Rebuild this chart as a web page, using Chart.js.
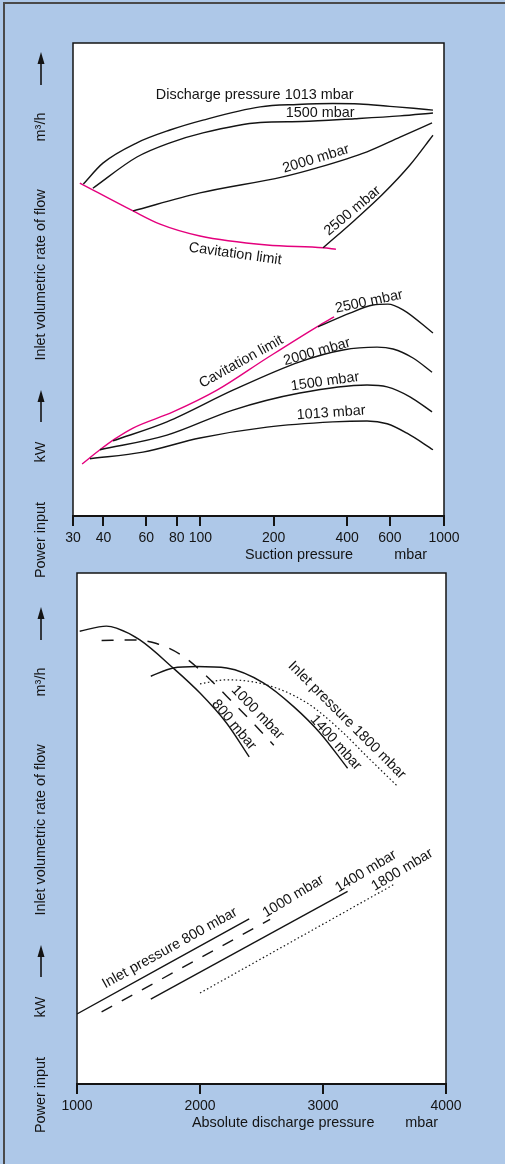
<!DOCTYPE html>
<html>
<head>
<meta charset="utf-8">
<script src="https://cdn.jsdelivr.net/npm/chart.js@4"></script>
<style>
  html, body { margin: 0; padding: 0; background: #aec8e8; }
  #page { position: relative; width: 505px; height: 1164px; overflow: hidden; }
  .rule { position: absolute; background: #4a4a4a; }
  canvas { position: absolute; left: 0; top: 0; }
</style>
</head>
<body>
<div id="page">
  <div class="rule" style="left:3px;top:2px;width:2px;height:1162px"></div>
  <div class="rule" style="left:3px;top:2px;width:502px;height:2px"></div>
  <canvas id="suction" width="505" height="1164" style="width:505px;height:1164px"></canvas>
  <canvas id="discharge" width="505" height="1164" style="width:505px;height:1164px"></canvas>
</div>
<script>
// x tick values
const suctionTicks = [30, 40, 60, 80, 100, 200, 400, 600, 1000];
const dischargeTicks = [1000, 2000, 3000, 4000];

// upper chart: [suction pressure mbar, relative value]  (flow on top, power below)
const flowAt1013 = [[33.1,70.2],[39.8,74.6],[54.9,78.9],[75,81.6],[102.5,83.7],[176,86.5],[250,87.0],[350,87.2],[450,87.1],[600,86.6],[750,86.2],[901,85.8]];
const flowAt1500 = [[36.2,69.3],[54.9,75.9],[75,78.9],[102.5,81.0],[176,83.2],[260,83.4],[431,84.0],[660,84.6],[901,85.2]];
const flowAt2000 = [[52.9,64.5],[99.6,68.3],[218,71.7],[301,73.6],[483,77.0],[660,80.1],[893,83.1]];
const flowAt2500 = [[319,56.7],[431,62.6],[557,67.9],[725,74.2],[901,80.5]];
const flowCavitation = [[32,70.4],[52.9,64.5],[68.3,61.7],[99.6,59.2],[187.7,57.3],[319,56.7],[360,56.4]];

const powerAt1013 = [[35.2,12.1],[58.1,13.5],[99.6,16.5],[187.7,18.8],[350,19.9],[483,20.1],[584,19.5],[705,17.5],[901,14.0]];
const powerAt1500 = [[38.7,14.0],[72.9,17.1],[136,22.4],[256,26.0],[483,27.7],[584,27.3],[725,25.2],[893,22.0]];
const powerAt2000 = [[43.8,15.9],[72.9,19.9],[136,26.6],[256,32.6],[385,35.1],[531,35.7],[618,35.3],[746,33.4],[893,30.4]];
const powerAt2500 = [[304,40.0],[411,42.9],[511,44.6],[589,44.8],[679,43.6],[901,38.7]];
const powerCavitation = [[32.7,11.0],[38.7,14.0],[44.6,16.3],[52.9,18.6],[77.2,22.0],[117,26.6],[187.7,33.4],[301,40.0],[354,42.1]];

// lower chart: [absolute discharge pressure mbar, relative value]
const flowIn800 = [[1022,88.6],[1239,89.6],[1321,89.2],[1511,86.9],[1782,81.4],[2000,76.5],[2217,70.6],[2400,64.0]];
const flowIn1000 = [[1200,86.8],[1456,86.9],[1647,86.2],[1863,83.7],[2054,79.8],[2217,75.9],[2433,70.6],[2600,66.3]];
const flowIn1400 = [[1600,79.8],[1782,81.4],[1972,81.7],[2217,81.4],[2515,78.5],[2759,73.9],[2976,68.7],[3200,61.8]];
const flowIn1800 = [[2000,78.3],[2217,79.1],[2542,78.1],[2868,74.6],[3139,69.3],[3357,64.1],[3600,58.4]];
const powerIn800 = [[1000,13.7],[2400,32.3]];
const powerIn1000 = [[1200,14.1],[2570,32.2]];
const powerIn1400 = [[1600,16.6],[3200,37.7]];
const powerIn1800 = [[2000,17.8],[3580,39.1]];

const FONT = '"Liberation Sans", Arial, sans-serif';
const INK = '#141414';
const MAGENTA = '#e4007d';

function pts(arr) { return arr.map(p => ({ x: p[0], y: p[1] })); }

function curve(data, extra) {
  return Object.assign({
    data: pts(data), borderColor: INK, borderWidth: 1.4, pointRadius: 0,
    tension: 0.4, cubicInterpolationMode: 'monotone', fill: false
  }, extra || {});
}

const DASHED = { borderDash: [12, 11] };
const DOTTED = { borderDash: [1.5, 2.5], borderWidth: 1.2 };

// white panel, frame, curve notes, axis title and the rotated side captions
function panelPlugin(cfg) {
  return {
    id: 'panel_' + cfg.name,
    beforeDraw(chart) {
      const { ctx, chartArea: a } = chart;
      ctx.save();
      ctx.fillStyle = '#fff';
      ctx.fillRect(a.left, a.top, a.width, a.height);
      ctx.restore();
    },
    afterDraw(chart) {
      const { ctx, chartArea: a } = chart;
      const xs = chart.scales.x, ys = chart.scales.y;
      ctx.save();
      ctx.strokeStyle = INK;
      ctx.lineWidth = 1.5;
      ctx.beginPath();
      ctx.moveTo(a.left, a.bottom);
      ctx.lineTo(a.left, a.top);
      ctx.lineTo(a.right, a.top);
      ctx.lineTo(a.right, a.bottom);
      ctx.stroke();

      ctx.fillStyle = INK;
      ctx.font = '14.4px ' + FONT;
      ctx.textAlign = 'center';
      ctx.textBaseline = 'middle';
      cfg.notes.forEach(n => {
        ctx.save();
        ctx.translate(xs.getPixelForValue(n.x), ys.getPixelForValue(n.y));
        ctx.rotate(n.rot * Math.PI / 180);
        ctx.fillText(n.text, 0, 0);
        ctx.restore();
      });

      ctx.textAlign = 'left';
      ctx.fillText(cfg.title, a.left + cfg.titleOffset, a.bottom + 39);
      ctx.textAlign = 'right';
      ctx.fillText('mbar', a.right - cfg.unitOffset, a.bottom + 39);

      const sx = 41;
      cfg.side.forEach(s => {
        if (s.text) {
          ctx.save();
          ctx.translate(sx, s.y);
          ctx.rotate(-Math.PI / 2);
          ctx.textAlign = 'center';
          ctx.fillText(s.text, 0, 0);
          ctx.restore();
        } else {
          const [y1, y2] = s.arrow;
          ctx.lineWidth = 1.6;
          ctx.beginPath();
          ctx.moveTo(sx, y1);
          ctx.lineTo(sx, y2 + 8);
          ctx.stroke();
          ctx.beginPath();
          ctx.moveTo(sx, y2);
          ctx.lineTo(sx - 3.5, y2 + 12);
          ctx.lineTo(sx + 3.5, y2 + 12);
          ctx.closePath();
          ctx.fill();
        }
      });
      ctx.restore();
    }
  };
}

function xAxis(type, min, max, tickList) {
  return {
    type: type, min: min, max: max,
    afterBuildTicks: s => { s.ticks = tickList.map(v => ({ value: v })); },
    afterFit: s => { s.height = 40; },
    ticks: { autoSkip: false, maxRotation: 0, color: INK, padding: 4,
             font: { family: FONT, size: 14 }, callback: v => String(v) },
    grid: { drawOnChartArea: false, drawTicks: true, tickLength: 10, color: INK, lineWidth: 2 },
    border: { display: true, color: INK, width: 2 }
  };
}

const topCfg = {
  name: 'suction',
  title: 'Suction pressure', titleOffset: 172, unitOffset: 17,
  notes: [
    { text: 'Discharge pressure 1013 mbar', x: 167, y: 89.1, rot: 0 },
    { text: '1500 mbar', x: 310, y: 85.2, rot: 0 },
    { text: '2000 mbar', x: 298, y: 75.5, rot: -17 },
    { text: '2500 mbar', x: 421, y: 64.5, rot: -40 },
    { text: 'Cavitation limit', x: 139, y: 55.4, rot: 8 },
    { text: '2500 mbar', x: 492, y: 45.3, rot: -12 },
    { text: 'Cavitation limit', x: 147, y: 32.6, rot: -29 },
    { text: '2000 mbar', x: 301, y: 34.7, rot: -16 },
    { text: '1500 mbar', x: 325, y: 28.4, rot: -8 },
    { text: '1013 mbar', x: 344, y: 21.8, rot: -4 }
  ],
  side: [
    { text: 'Power input', y: 540 }, { text: 'kW', y: 452 }, { arrow: [422, 390] },
    { text: 'Inlet volumetric rate of flow', y: 275 }, { text: 'm³/h', y: 127 }, { arrow: [85, 52] }
  ]
};

const bottomCfg = {
  name: 'discharge',
  title: 'Absolute discharge pressure', titleOffset: 115, unitOffset: 8,
  notes: [
    { text: '800 mbar', x: 2276, y: 70.3, rot: 50 },
    { text: '1000 mbar', x: 2467, y: 72.7, rot: 46 },
    { text: '1400 mbar', x: 3104, y: 66.8, rot: 48 },
    { text: 'Inlet pressure 1800 mbar', x: 3194, y: 71.2, rot: 45 },
    { text: 'Inlet pressure 800 mbar', x: 1755, y: 26.6, rot: -29 },
    { text: '1000 mbar', x: 2759, y: 36.7, rot: -31 },
    { text: '1400 mbar', x: 3349, y: 41.6, rot: -31 },
    { text: '1800 mbar', x: 3644, y: 41.9, rot: -31 }
  ],
  side: [
    { text: 'Power input', y: 1095 }, { text: 'kW', y: 1007 }, { arrow: [977, 945] },
    { text: 'Inlet volumetric rate of flow', y: 830 }, { text: 'm³/h', y: 682 }, { arrow: [640, 607] }
  ]
};

const common = {
  responsive: false,
  animation: false,
  plugins: { legend: { display: false }, tooltip: { enabled: false } }
};

// Suction pressure chart
new Chart(document.getElementById('suction'), {
  type: 'line',
  data: {
    datasets: [
      curve(flowAt1013), curve(flowAt1500), curve(flowAt2000), curve(flowAt2500),
      curve(powerAt1013), curve(powerAt1500), curve(powerAt2000), curve(powerAt2500),
      curve(flowCavitation, { borderColor: MAGENTA }),
      curve(powerCavitation, { borderColor: MAGENTA })
    ]
  },
  options: Object.assign({}, common, {
    layout: { padding: { left: 73, right: 61, top: 43, bottom: 608 } },
    scales: {
      x: xAxis('logarithmic', 30, 1000, suctionTicks),
      y: { type: 'linear', min: 0, max: 100, display: false }
    }
  }),
  plugins: [panelPlugin(topCfg)]
});

// Discharge pressure chart
new Chart(document.getElementById('discharge'), {
  type: 'line',
  data: {
    datasets: [
      curve(flowIn800), curve(flowIn1000, DASHED), curve(flowIn1400), curve(flowIn1800, DOTTED),
      curve(powerIn800), curve(powerIn1000, DASHED), curve(powerIn1400), curve(powerIn1800, DOTTED)
    ]
  },
  options: Object.assign({}, common, {
    layout: { padding: { left: 77, right: 59, top: 573, bottom: 40 } },
    scales: {
      x: xAxis('linear', 1000, 4000, dischargeTicks),
      y: { type: 'linear', min: 0, max: 100, display: false }
    }
  }),
  plugins: [panelPlugin(bottomCfg)]
});
</script>
</body>
</html>
